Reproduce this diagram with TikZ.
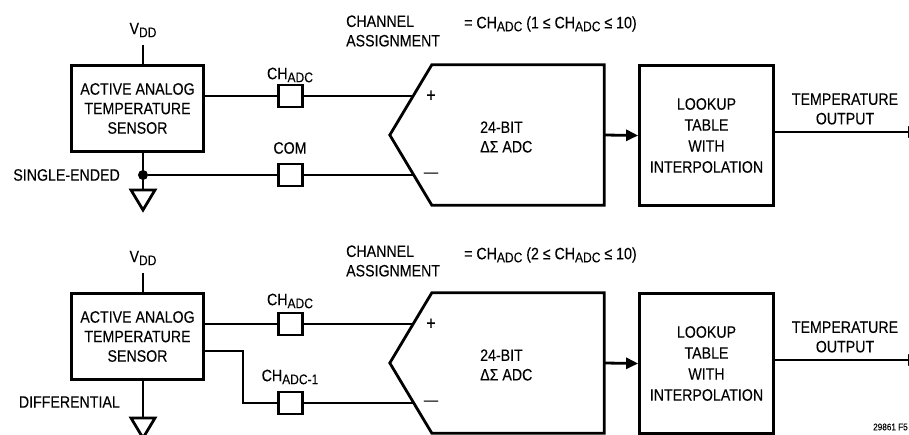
\documentclass[tikz,border=0pt]{standalone}
\usepackage{fontspec}
\setmainfont{Liberation Sans}[FakeStretch=0.86, FakeBold=0.15]
\usetikzlibrary{arrows.meta,positioning,calc}
\newcommand{\lsub}[1]{\raisebox{-3pt}{\fontsize{14}{14}\selectfont #1}}

\begin{document}
\begin{tikzpicture}[
    x=1pt, y=-1pt,
    >={Triangle[length=12pt,width=11pt]},
    every node/.style={font=\fontsize{16.5}{19.5}\selectfont, inner sep=0pt},
    sensbox/.style={draw, line width=2.8pt, minimum width=132pt,
                    minimum height=86pt, align=center},
    chbox/.style={draw, line width=2.8pt, minimum width=24pt, minimum height=22pt},
    lutbox/.style={draw, line width=2.8pt, minimum width=134pt, minimum height=140pt,
                   align=center, font=\fontsize{16.5}{21}\selectfont},
    adcbody/.style={minimum width=172pt, minimum height=140pt},
    wire/.style={line width=2.8pt},
    sig/.style={->, line width=2.8pt},
    lbl/.style={align=left, anchor=west},
    sgn/.style={font=\fontsize{19}{19}\selectfont},
    dot/.style={circle, fill, minimum size=10pt}
  ]
      \useasboundingbox (0,0) rectangle (909,435);
      \clip (0,0) rectangle (909,435);

      % Single-ended
      \node (vdd1) at (143,30) {V\lsub{DD}};
      \coordinate (vtop1) at (143,45);
      \node[sensbox] (sens1) at (137.5,108.5) {ACTIVE ANALOG\\TEMPERATURE\\SENSOR};
      \draw[wire] (vtop1) -- (vtop1 |- sens1.north);
      \coordinate (gnd1) at (143,190);
      \draw[wire] (gnd1 |- sens1.south) -- (gnd1);
      \draw[wire] (gnd1) ++(-12,0) -- ++(24,0) -- ++(-12,20) -- cycle;
      \node[dot] (dot1) at (143,175) {};
      \node[anchor=east] (se) at (120,175) {SINGLE-ENDED};

      \node[chbox] (chp1) at (290.5,96) {};
      \node (chpl1) at (290,75) {CH\lsub{ADC}};
      \node[chbox] (com1) at (290.5,175) {};
      \node (coml1) at (290,148) {COM};

      \node[adcbody] (adc1) at (518,135) {};
      \draw[wire] (adc1.north west) -- (adc1.north east) -- (adc1.south east)
          -- (adc1.south west) -- ([xshift=-42pt]adc1.west) -- cycle;
      \coordinate (inp1) at (413,96);
      \coordinate (inm1) at (414,175);
      \draw[wire] (sens1.east |- chp1) -- (chp1.west);
      \draw[wire] (chp1.east) -- (inp1);
      \draw[wire] (dot1) -- (com1.west);
      \draw[wire] (com1.east) -- (inm1);
      \node[sgn] (pl1) at (431,96) {+};
      \node (mi1) at (431,175) {—};
      \node[lbl] (adct1) at (480,137) {24-BIT\\ΔΣ ADC};

      \node[lutbox] (lut1) at (706.5,135.5) {LOOKUP\\TABLE\\WITH\\INTERPOLATION};
      \draw[sig] (adc1.east) -- (lut1.west);
      \coordinate (out1) at (920,132);
      \draw[sig] (lut1.east |- out1) -- (out1);
      \node[align=center] (toutl1) at (845,109) {TEMPERATURE\\OUTPUT};

      \node[lbl] (chan1) at (346,31) {CHANNEL\\ASSIGNMENT};
      \node[lbl] (eq1) at (464,24) {= CH\lsub{ADC} (1 ≤ CH\lsub{ADC} ≤ 10)};

      % Differential
      \node (vdd2) at (143,258) {V\lsub{DD}};
      \coordinate (vtop2) at (143,273);
      \node[sensbox] (sens2) at (137.5,336.5) {ACTIVE ANALOG\\TEMPERATURE\\SENSOR};
      \draw[wire] (vtop2) -- (vtop2 |- sens2.north);
      \coordinate (gnd2) at (143,418);
      \draw[wire] (gnd2 |- sens2.south) -- (gnd2);
      \draw[wire] (gnd2) ++(-12,0) -- ++(24,0) -- ++(-12,20) -- cycle;
      \node[anchor=east] (diff) at (120,402) {DIFFERENTIAL};

      \node[chbox] (chp2) at (290.5,324) {};
      \node (chpl2) at (290,301) {CH\lsub{ADC}};
      \node[chbox] (chm2) at (290.5,403) {};
      \node (chml2) at (290,377) {CH\lsub{ADC-1}};

      \node[adcbody] (adc2) at (518,363) {};
      \draw[wire] (adc2.north west) -- (adc2.north east) -- (adc2.south east)
          -- (adc2.south west) -- ([xshift=-42pt]adc2.west) -- cycle;
      \coordinate (inp2) at (413,324);
      \coordinate (inm2) at (414,403);
      \coordinate (bend2) at (243,351);
      \draw[wire] (sens2.east |- chp2) -- (chp2.west);
      \draw[wire] (chp2.east) -- (inp2);
      \draw[wire] (sens2.east |- bend2) -- (bend2) -- (bend2 |- chm2) -- (chm2.west);
      \draw[wire] (chm2.east) -- (inm2);
      \node[sgn] (pl2) at (431,324) {+};
      \node (mi2) at (431,403) {—};
      \node[lbl] (adct2) at (480,365) {24-BIT\\ΔΣ ADC};

      \node[lutbox] (lut2) at (706.5,363.5) {LOOKUP\\TABLE\\WITH\\INTERPOLATION};
      \draw[sig] (adc2.east) -- (lut2.west);
      \coordinate (out2) at (920,360);
      \draw[sig] (lut2.east |- out2) -- (out2);
      \node[align=center] (toutl2) at (845,337) {TEMPERATURE\\OUTPUT};

      \node[lbl] (chan2) at (346,261) {CHANNEL\\ASSIGNMENT};
      \node[lbl] (eq2) at (464,255) {= CH\lsub{ADC} (2 ≤ CH\lsub{ADC} ≤ 10)};

      \node[anchor=west, font=\fontsize{9.5}{11}\selectfont] (fig) at (873,427) {29861 F5};
\end{tikzpicture}
\end{document}
